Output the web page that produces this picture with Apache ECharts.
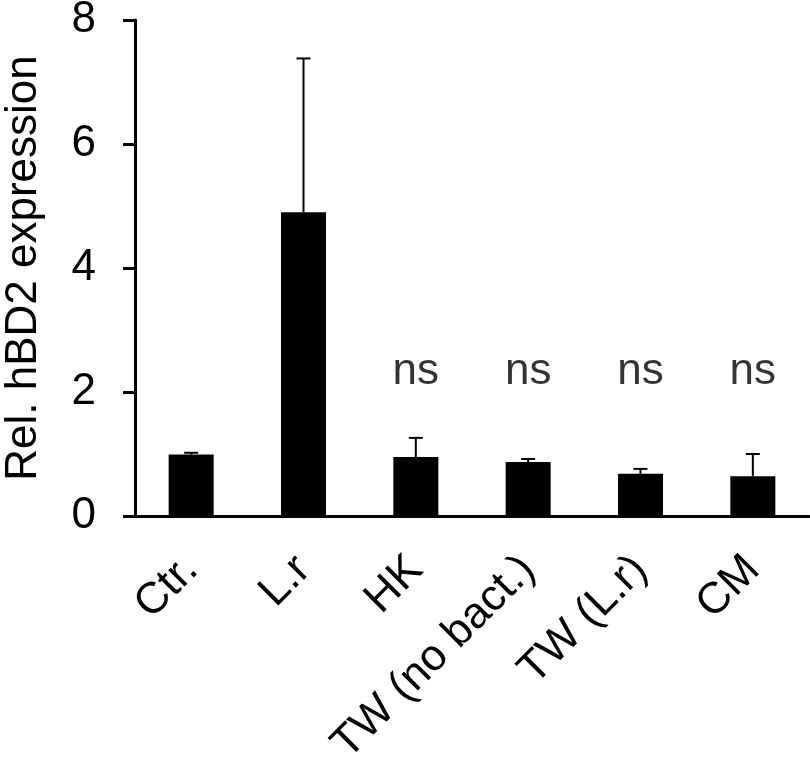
<!DOCTYPE html>
<html>
<head>
<meta charset="utf-8">
<script src="https://cdn.jsdelivr.net/npm/echarts@6/dist/echarts.min.js"></script>
<style>
  html, body { margin: 0; padding: 0; background: #fff; }
  #main { width: 810px; height: 768px; }
</style>
</head>
<body>
<div id="main"></div>
<script>
// groups on the x axis
const categories = ['Ctr.', 'L.r', 'HK', 'TW (no bact.)', 'TW (L.r)', 'CM'];
// mean relative expression
const means = [0.99, 4.90, 0.95, 0.87, 0.68, 0.64];
// upper end of the error bar
const errHigh = [1.02, 7.38, 1.26, 0.92, 0.76, 1.00];
// significance marks
const sigLabels = ['', '', 'ns', 'ns', 'ns', 'ns'];
const sigLevel = 2.32;
const yTicks = [0, 2, 4, 6, 8];

const FONT = '"Liberation Sans", Arial, sans-serif';
const FS = 44;
const chart = echarts.init(document.getElementById('main'));

const errData = categories.map((c, i) => [i, means[i], errHigh[i]]);
const sigData = sigLabels
  .map((s, i) => ({ value: [i, sigLevel], label: s }))
  .filter(d => d.label);

chart.setOption({
  animation: false,
  grid: { left: 135, right: 1, top: 20, bottom: 252, outerBoundsMode: 'none', containLabel: false },
  xAxis: {
    type: 'category',
    data: categories,
    axisLine: { lineStyle: { color: '#000', width: 3 } },
    axisTick: { show: false },
    axisLabel: {
      rotate: 45,
      interval: 0,
      margin: 47,
      color: '#000',
      fontSize: FS,
      fontFamily: FONT
    }
  },
  yAxis: {
    type: 'value',
    min: yTicks[0],
    max: yTicks[yTicks.length - 1],
    interval: 2,
    name: 'Rel. hBD2 expression',
    nameLocation: 'middle',
    nameGap: 89,
    nameTextStyle: { color: '#000', fontSize: FS, fontFamily: FONT },
    axisLine: { show: true, lineStyle: { color: '#000', width: 3 } },
    axisTick: { show: true, length: 12, lineStyle: { color: '#000', width: 3 } },
    axisLabel: { color: '#000', fontSize: FS, fontFamily: FONT, margin: 39 },
    splitLine: { show: false }
  },
  series: [
    {
      type: 'bar',
      data: means,
      barWidth: 45,
      itemStyle: { color: '#000' }
    },
    {
      type: 'custom',
      data: errData,
      z: 5,
      renderItem: function (params, api) {
        const i = api.value(0);
        const base = api.coord([i, api.value(1)]);
        const top = api.coord([i, api.value(2)]);
        const cap = 7;
        const style = { stroke: '#000', lineWidth: 2 };
        return {
          type: 'group',
          children: [
            { type: 'line', shape: { x1: base[0], y1: base[1], x2: top[0], y2: top[1] }, style: style },
            { type: 'line', shape: { x1: top[0] - cap, y1: top[1], x2: top[0] + cap, y2: top[1] }, style: style }
          ]
        };
      }
    },
    {
      type: 'scatter',
      data: sigData.map(d => d.value),
      symbolSize: 0,
      label: {
        show: true,
        position: 'inside',
        formatter: p => sigData[p.dataIndex].label,
        color: '#000',
        fontSize: FS,
        fontFamily: FONT
      }
    }
  ]
});
</script>
</body>
</html>
